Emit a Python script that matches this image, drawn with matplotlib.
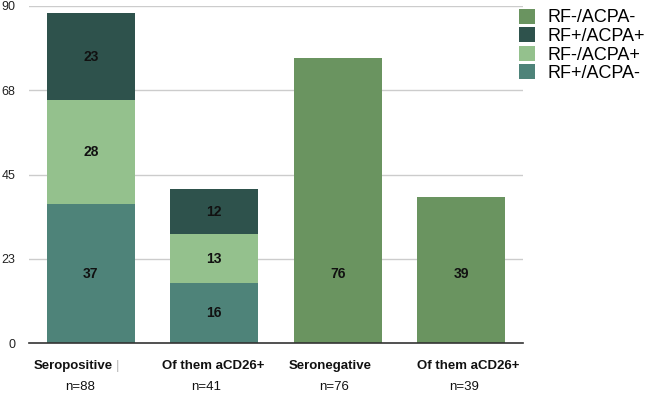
import matplotlib
matplotlib.use("Agg")
import matplotlib.pyplot as plt
from matplotlib.patches import Patch
import numpy as np

plt.rcParams['font.family'] = ['Liberation Sans', 'DejaVu Sans']

categories = ["Seropositive", "Of them aCD26+", "Seronegative", "Of them aCD26+"]
n_labels = ["n=88", "n=41", "n=76", "n=39"]
rfpos_acpaneg = [37, 16, 0, 0]
rfneg_acpapos = [28, 13, 0, 0]
rfpos_acpapos = [23, 12, 0, 0]
rfneg_acpaneg = [0, 0, 76, 39]
# label heights used by the source for the single-segment bars
rfneg_acpaneg_label_y = [None, None, 18.5, 18.5]
yticks = [0, 22.5, 45, 67.5, 90]
ytick_labels = ["0", "23", "45", "68", "90"]

c_teal = "#4e8379"
c_light = "#94c18d"
c_dark = "#2e524c"
c_green = "#6a9460"

fig = plt.figure(figsize=(6.45, 3.94), dpi=100)
ax = fig.add_axes([29/645, 1 - 343/394, (523-29)/645, (343-6)/394])

x = np.arange(len(categories))
w = 0.713
series = [
    (rfpos_acpaneg, c_teal, None),
    (rfneg_acpapos, c_light, None),
    (rfpos_acpapos, c_dark, None),
    (rfneg_acpaneg, c_green, rfneg_acpaneg_label_y),
]
bottom = np.zeros(len(x))
for vals, col, label_y in series:
    vals = np.array(vals, dtype=float)
    ax.bar(x, vals, w, bottom=bottom, color=col, zorder=3, linewidth=0)
    for i, (xi, v, b) in enumerate(zip(x, vals, bottom)):
        if v > 0:
            yy = b + v / 2
            if label_y is not None and label_y[i] is not None:
                yy = label_y[i]
            ax.text(xi, yy, f"{int(v)}", ha="center", va="center",
                    fontsize=10, fontweight="bold", color="#111111", zorder=4)
    bottom += vals

ax.set_xlim(-0.5, 3.5)
ax.set_ylim(0, 90)
ax.set_yticks(yticks)
ax.set_yticklabels(ytick_labels, fontsize=9, color="#222222")
ax.tick_params(axis="y", length=0, pad=10)
ax.set_xticks([])
for s in ax.spines.values():
    s.set_visible(False)
for t in yticks[1:]:
    ax.axhline(t, color="#cccccc", linewidth=1, zorder=1)
ax.axhline(0, color="#333333", linewidth=1.2, zorder=5, clip_on=False)

# category labels (offsets in pixels, to mimic source layout)
cat_dx = [-18, -1, -8, 7]
n_dx = [-11, -8, -4, 3]
for xi, lab, nl, dx1, dx2 in zip(x, categories, n_labels, cat_dx, n_dx):
    ax.annotate(lab, xy=(xi, 0), xycoords=("data", "axes fraction"),
                xytext=(dx1 * 0.72, -16.5), textcoords="offset points",
                ha="center", va="center", fontsize=9.5, fontweight="bold",
                color="#111111")
    ax.annotate(nl, xy=(xi, 0), xycoords=("data", "axes fraction"),
                xytext=(dx2 * 0.72, -31.5), textcoords="offset points",
                ha="center", va="center", fontsize=9.5, color="#111111")
ax.annotate("|", xy=(0, 0), xycoords=("data", "axes fraction"),
            xytext=(27 * 0.72, -16.5), textcoords="offset points",
            ha="center", va="center", fontsize=9.5, color="#bbbbbb")

handles = [Patch(facecolor=c_green, label="RF-/ACPA-"),
           Patch(facecolor=c_dark, label="RF+/ACPA+"),
           Patch(facecolor=c_light, label="RF-/ACPA+"),
           Patch(facecolor=c_teal, label="RF+/ACPA-")]
fig.legend(handles=handles, loc="upper left", bbox_to_anchor=(515/645, 1 - 5/394),
           frameon=False, fontsize=13, handlelength=0.9, handleheight=0.9,
           handletextpad=0.7, labelspacing=0.05, borderaxespad=0, borderpad=0.2)

fig.savefig("out.png", dpi=100)
